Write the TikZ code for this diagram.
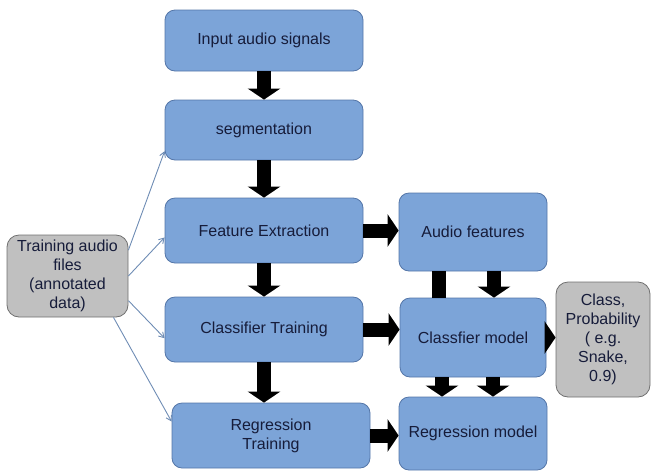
\documentclass[tikz,border=0pt]{standalone}
\usepackage{fontspec}
\setmainfont{Liberation Sans}
\usetikzlibrary{arrows.meta,calc}
\definecolor{bfill}{RGB}{124,164,216}
\definecolor{bdraw}{RGB}{84,118,168}
\definecolor{gfill}{RGB}{192,192,192}
\definecolor{gdraw}{RGB}{112,112,112}
\definecolor{txt}{RGB}{22,28,58}
\definecolor{thincol}{RGB}{110,140,180}
\tikzset{
  bbox/.style={draw=bdraw,fill=bfill,line width=0.8pt,rounded corners=10pt,align=center,text=txt,
    font=\fontsize{16}{19}\selectfont,inner sep=0pt},
  gbox/.style={draw=gdraw,fill=gfill,line width=0.8pt,rounded corners=12pt,align=center,text=txt,
    font=\fontsize{16}{19}\selectfont,inner sep=0pt},
  blk/.style={line width=14pt,black,-{Triangle[width=32pt,length=11pt]}},
  bar/.style={line width=14pt,black},
  thinarr/.style={draw=thincol,line width=0.9pt,-{Straight Barb[length=5pt,width=6pt]}}
}
\begin{document}
\begin{tikzpicture}[x=1pt,y=-1pt]
\useasboundingbox (0,0) rectangle (651,475);
\node[bbox,minimum width=198pt,minimum height=61pt] (in) at (264,40.5) {Input audio signals};
\node[bbox,minimum width=198pt,minimum height=60pt] (seg) at (264,130) {segmentation};
\node[bbox,minimum width=198pt,minimum height=65pt] (fe) at (264,230.5) {Feature Extraction};
\node[bbox,minimum width=198pt,minimum height=65pt] (ct) at (264,329.5) {Classifier Training};
\node[bbox,minimum width=198pt,minimum height=65pt] (rt) at (271,435.5) {Regression\\Training};
\node[bbox,minimum width=148pt,minimum height=78pt] (af) at (473,232) {Audio features};
\node[bbox,minimum width=146pt,minimum height=79pt] (cm) at (473,337.5) {Classfier model};
\node[bbox,minimum width=148pt,minimum height=73pt] (rm) at (473,433.5) {Regression model};
\node[gbox,minimum width=94pt,minimum height=115pt] (cp) at (603,339.5) {Class,\\Probability\\( e.g.\\Snake,\\0.9)};
\node[gbox,minimum width=121pt,minimum height=82pt] (tr) at (67.5,276) {Training audio\\files\\(annotated\\data)};
% thick arrows
\draw[blk] (in.south) -- (seg.north);
\draw[blk] (seg.south) -- (fe.north);
\draw[blk] (fe.south) -- (ct.north);
\draw[blk] (ct.south) -- (ct.south |- rt.north);
\draw[blk] (fe.east) -- (af.west |- fe.east);
\draw[blk] (ct.east) -- (cm.west |- ct.east);
\draw[blk] (rt.east) -- (rm.west |- rt.east);
\draw[blk] (cm.east) -- (cp.west |- cm.east);
\draw[bar] ($(af.south)+(-34,0)$) -- ($(cm.north)+(-34,0)$);
\draw[blk] ($(af.south)+(21,0)$) -- ($(cm.north)+(21,0)$);
\draw[blk] ($(cm.south)+(-31,0)$) -- ($(rm.north)+(-31,0)$);
\draw[blk] ($(cm.south)+(20,0)$) -- ($(rm.north)+(20,0)$);
% thin arrows
\draw[thinarr] (tr.23) -- (seg.192);
\draw[thinarr] (tr.east) -- (fe.184);
\draw[thinarr] (tr.-22) -- (ct.185);
\draw[thinarr] (tr.-42) -- (rt.172);
\end{tikzpicture}
\end{document}
